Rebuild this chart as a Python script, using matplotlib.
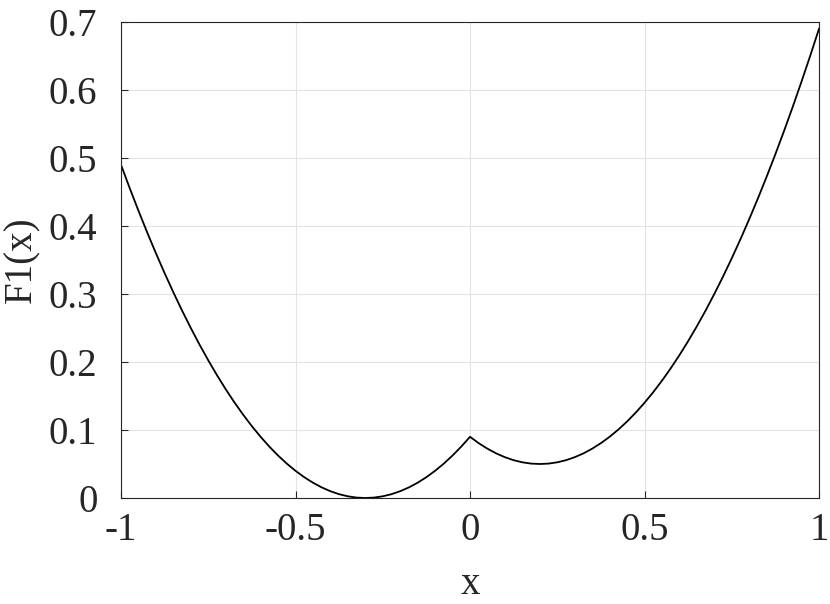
import matplotlib
matplotlib.use("Agg")
import matplotlib.pyplot as plt

plt.rcParams['font.family'] = ['Liberation Serif', 'DejaVu Serif']

# values
x = [-1.0, -0.975, -0.95, -0.925, -0.9, -0.875, -0.85, -0.825, -0.8, -0.775,
     -0.75, -0.725, -0.7, -0.675, -0.65, -0.625, -0.6, -0.575, -0.55, -0.525,
     -0.5, -0.475, -0.45, -0.425, -0.4, -0.375, -0.35, -0.325, -0.3, -0.275,
     -0.25, -0.225, -0.2, -0.175, -0.15, -0.125, -0.1, -0.075, -0.05, -0.025,
     0.0, 0.025, 0.05, 0.075, 0.1, 0.125, 0.15, 0.175, 0.2, 0.225,
     0.25, 0.275, 0.3, 0.325, 0.35, 0.375, 0.4, 0.425, 0.45, 0.475,
     0.5, 0.525, 0.55, 0.575, 0.6, 0.625, 0.65, 0.675, 0.7, 0.725,
     0.75, 0.775, 0.8, 0.825, 0.85, 0.875, 0.9, 0.925, 0.95, 0.975, 1.0]
f1 = [0.49, 0.4556, 0.4225, 0.3906, 0.36, 0.3306, 0.3025, 0.2756, 0.25, 0.2256,
      0.2025, 0.1806, 0.16, 0.1406, 0.1225, 0.1056, 0.09, 0.0756, 0.0625, 0.0506,
      0.04, 0.0306, 0.0225, 0.0156, 0.01, 0.0056, 0.0025, 0.0006, 0.0, 0.0006,
      0.0025, 0.0056, 0.01, 0.0156, 0.0225, 0.0306, 0.04, 0.0506, 0.0625, 0.0756,
      0.09, 0.0806, 0.0725, 0.0656, 0.06, 0.0556, 0.0525, 0.0506, 0.05, 0.0506,
      0.0525, 0.0556, 0.06, 0.0656, 0.0725, 0.0806, 0.09, 0.1006, 0.1125, 0.1256,
      0.14, 0.1556, 0.1725, 0.1906, 0.21, 0.2306, 0.2525, 0.2756, 0.30, 0.3256,
      0.3525, 0.3806, 0.41, 0.4406, 0.4725, 0.5056, 0.54, 0.5756, 0.6125, 0.6506, 0.69]

xticks = [-1, -0.5, 0, 0.5, 1]
xticklabels = ['-1', '-0.5', '0', '0.5', '1']
yticks = [0, 0.1, 0.2, 0.3, 0.4, 0.5, 0.6, 0.7]
yticklabels = ['0', '0.1', '0.2', '0.3', '0.4', '0.5', '0.6', '0.7']

fig = plt.figure(figsize=(8.3, 6.04), dpi=100)
ax = fig.add_axes([121/830, 1 - 498/604, (819-121)/830, (498-22)/604])

ax.plot(x, f1, color='black', lw=1.3)
ax.set_xlim(-1, 1)
ax.set_ylim(0, 0.7)
ax.set_xticks(xticks)
ax.set_xticklabels(xticklabels)
ax.set_yticks(yticks)
ax.set_yticklabels(yticklabels)
ax.grid(True, color='#e3e3e3', lw=0.8)
ax.set_axisbelow(True)
for s in ax.spines.values():
    s.set_color('#262626')
    s.set_linewidth(0.8)
ax.tick_params(direction='in', length=5, width=0.8, colors='#262626',
               labelsize=28)
ax.tick_params(axis='x', pad=10)
ax.tick_params(axis='y', pad=17)
ax.set_xlabel('x', fontsize=28, color='#262626', labelpad=12)
ax.set_ylabel('F1(x)', fontsize=28, color='#262626', labelpad=6)

fig.savefig('out.png', dpi=100)
